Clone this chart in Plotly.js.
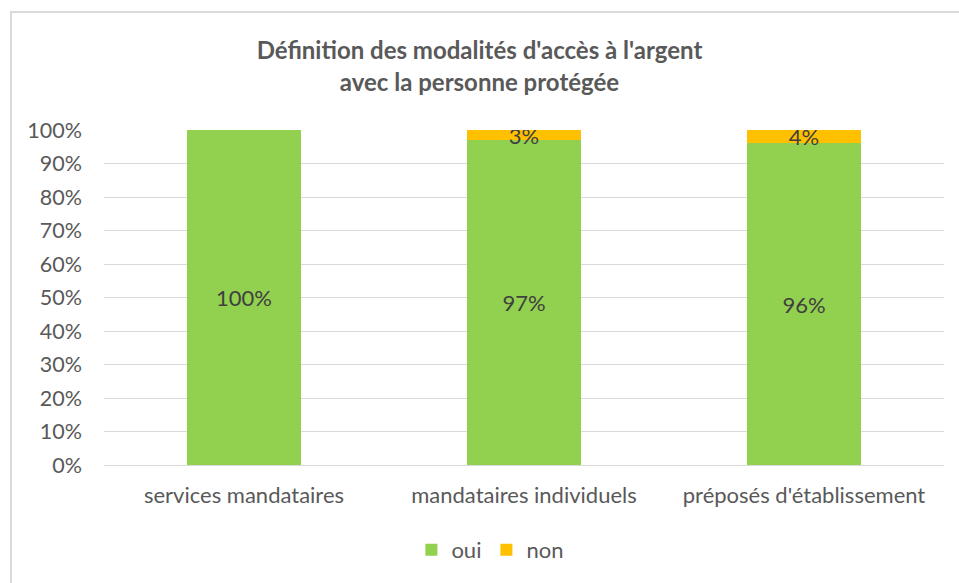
<!DOCTYPE html>
<html><head><meta charset="utf-8">
<script src="https://cdn.plot.ly/plotly-3.0.1.min.js"></script>
<style>
html,body{margin:0;padding:0;background:#fff;}
#wrap{position:relative;width:959px;height:583px;overflow:hidden;}
#chart{position:absolute;left:0;top:0;width:959px;height:583px;}
#frame{position:absolute;left:10px;top:11px;width:1000px;height:700px;border-left:2px solid #d9d9d9;border-top:2px solid #d9d9d9;pointer-events:none;}
</style></head>
<body><div id="wrap"><div id="chart"></div><div id="frame"></div></div>
<script>
const categories = ["services mandataires", "mandataires individuels", "préposés d'établissement"];
const oui = [100, 97, 96];
const non = [0, 3, 4];
const seriesNames = ["oui", "non"];
const yTickVals = [0,10,20,30,40,50,60,70,80,90,100];
const yTickText = yTickVals.map(v => v + "%");

const FONT = "Lato, 'Liberation Sans', sans-serif";
const traces = [
  {type:'bar', name:seriesNames[0], x:categories, y:oui, marker:{color:'#92D050'},
   text:oui.map(v=>v>0?v+'%':''), textposition:'inside', insidetextanchor:'middle', constraintext:'none',
   textfont:{family:FONT,size:22,color:'#404040'}, hoverinfo:'none'},
  {type:'bar', name:seriesNames[1], x:categories, y:non, marker:{color:'#FFC000'},
   text:non.map(v=>v>0?v+'%':''), textposition:'inside', insidetextanchor:'middle', constraintext:'none',
   textfont:{family:FONT,size:22,color:'#404040'}, hoverinfo:'none'}
];
const layout = {
  width:959, height:583,
  margin:{l:104, r:15, t:130, b:118, autoexpand:false},
  barmode:'stack', bargap:0.596,
  paper_bgcolor:'#fff', plot_bgcolor:'#fff',
  font:{family:FONT, color:'#595959', size:22},
  title:{text:"<b>Définition des modalités d'accès à l'argent<br>avec la personne protégée</b>",
         x:0.5, xanchor:'center', y:0.898, yanchor:'middle',
         font:{family:FONT, size:24, color:'#595959'}},
  xaxis:{tickfont:{family:FONT,size:22,color:'#595959'}, showgrid:false, zeroline:false, automargin:false,
         showline:true, linecolor:'#d9d9d9', linewidth:1, ticks:'', ticklabelstandoff:11},
  yaxis:{range:[0,100], tickvals:yTickVals, ticktext:yTickText, showgrid:true, gridcolor:'#d9d9d9',
         gridwidth:1, zeroline:false, showline:false, ticks:'', ticklabelstandoff:21, automargin:false,
         tickfont:{family:FONT,size:21.5,color:'#595959'}},
  showlegend:true,
  legend:{orientation:'h', x:0.46, xanchor:'center', y:-0.191, yanchor:'top',
          font:{family:FONT,size:22,color:'#595959'}, itemwidth:30, traceorder:'normal'}
};
Plotly.newPlot('chart', traces, layout, {displayModeBar:false, staticPlot:true});
</script></body></html>
